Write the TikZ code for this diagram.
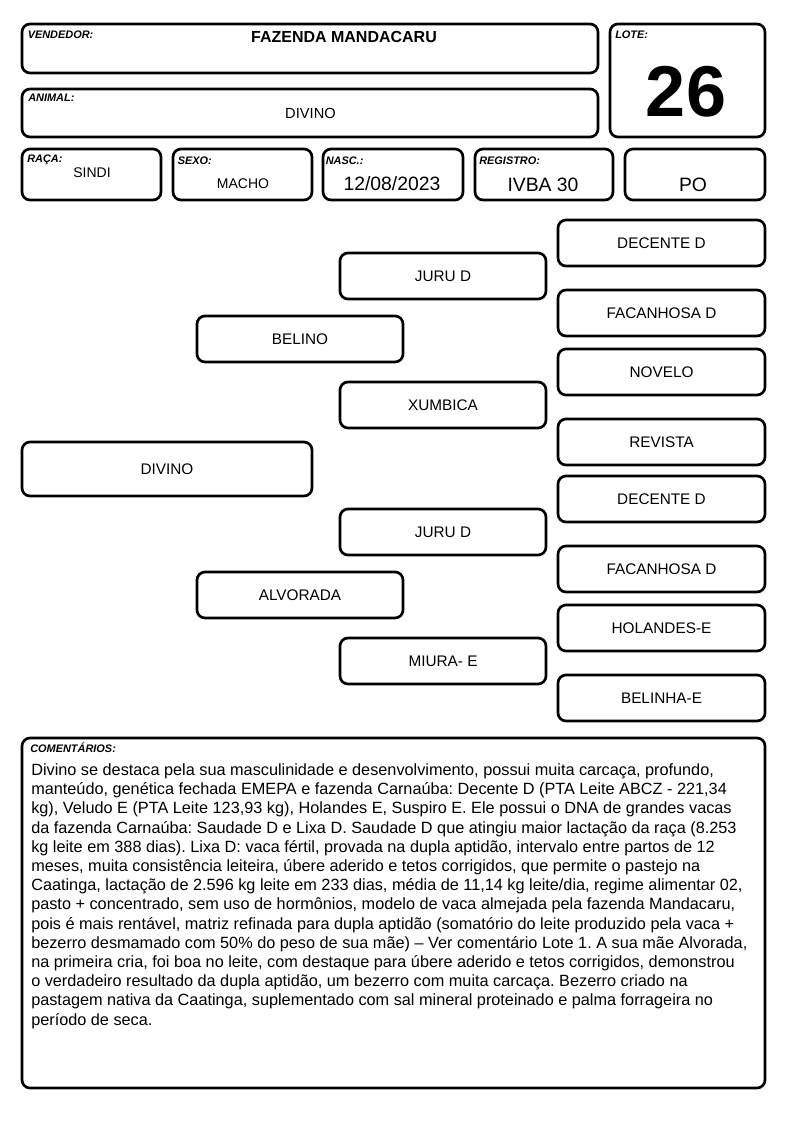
\documentclass[tikz,border=0pt]{standalone}
\usepackage{fontspec}
\setmainfont{Liberation Sans}
\frenchspacing
\tikzset{
  box/.style={draw, line width=2pt, rounded corners=6pt, inner sep=0pt,
    font=\fontsize{11.5}{13}\selectfont},
  lbl/.style={anchor=base west, inner sep=0pt, font=\fontsize{8.2}{9}\selectfont\bfseries\itshape},
  val/.style={anchor=base, inner sep=0pt},
  valmid/.style={val, font=\fontsize{10.5}{12}\selectfont},
  valbig/.style={val, font=\fontsize{14.5}{16}\selectfont},
}
\newcommand\pbox[6]{%
  \node[box, minimum width={(#4-#2-2)*0.75pt}, minimum height={(#5-#3-2)*0.75pt}]
    (#1) at ({(#2+#4)/2},{(#3+#5)/2}) {#6};}
\begin{document}
\begin{tikzpicture}[x=0.75pt,y=-0.75pt]
\useasboundingbox (0,0) rectangle (794,1123);
% header
\pbox{vend}{21}{23}{599}{74}{}
\pbox{lote}{609}{23}{766}{138}{}
\pbox{anim}{21}{88}{599}{138}{}
\pbox{raca}{21}{148}{162}{201}{}
\pbox{sexo}{172}{148}{313}{201}{}
\pbox{nasc}{322}{148}{464}{201}{}
\pbox{regi}{474}{148}{614}{201}{}
\pbox{po}{624}{148}{766}{201}{}
\node[lbl] (lvend) at (27.5,39) {VENDEDOR:};
\node[lbl] (llote) at (615,39) {LOTE:};
\node[lbl] (lanim) at (28,102) {ANIMAL:};
\node[lbl] (lraca) at (27,163) {RAÇA:};
\node[lbl] (lsexo) at (177.5,165) {SEXO:};
\node[lbl] (lnasc) at (325.5,165) {NASC.:};
\node[lbl] (lregi) at (479,165) {REGISTRO:};
\node[val, font=\fontsize{12}{14}\selectfont\bfseries] (tvend) at (344,43) {FAZENDA MANDACARU};
\node[val, font=\fontsize{11}{13}\selectfont] (tanim) at (310.5,119) {DIVINO};
\node[val, font=\fontsize{54}{60}\selectfont\bfseries] (tlote) at (686,117) {26};
\node[valmid] (traca) at (92,178) {SINDI};
\node[valmid] (tsexo) at (243,189) {MACHO};
\node[valbig] (tnasc) at (392,191) {12/08/2023};
\node[valbig] (tregi) at (543,192) {IVBA 30};
\node[valbig] (tpo) at (693,192) {PO};
% pedigree
\pbox{p0}{21}{441}{313}{497}{DIVINO}
\pbox{p1}{196}{315}{404}{363}{BELINO}
\pbox{p2}{196}{571}{404}{619}{ALVORADA}
\pbox{p3}{339}{252}{547}{300}{JURU D}
\pbox{p4}{339}{381}{547}{429}{XUMBICA}
\pbox{p5}{339}{508}{547}{556}{JURU D}
\pbox{p6}{339}{637}{547}{685}{MIURA- E}
\pbox{p7}{557}{219}{766}{267}{DECENTE D}
\pbox{p8}{557}{289}{766}{337}{FACANHOSA D}
\pbox{p9}{557}{348}{766}{396}{NOVELO}
\pbox{p10}{557}{418}{766}{466}{REVISTA}
\pbox{p11}{557}{475}{766}{523}{DECENTE D}
\pbox{p12}{557}{545}{766}{593}{FACANHOSA D}
\pbox{p13}{557}{604}{766}{652}{HOLANDES-E}
\pbox{p14}{557}{674}{766}{722}{BELINHA-E}
% comments
\pbox{com}{21}{737}{766}{1089}{}
\node[lbl] (lcom) at (30,752) {COMENTÁRIOS:};
\node[anchor=north west, inner sep=0pt, align=left, font=\fontsize{12.2}{14.4}\selectfont] (tcom) at (31,763.5) {%
Divino se destaca pela sua masculinidade e desenvolvimento, possui muita carcaça, profundo,\\
manteúdo, genética fechada EMEPA e fazenda Carnaúba: Decente D (PTA Leite ABCZ - 221,34\\
kg), Veludo E (PTA Leite 123,93 kg), Holandes E, Suspiro E. Ele possui o DNA de grandes vacas\\
da fazenda Carnaúba: Saudade D e Lixa D. Saudade D que atingiu maior lactação da raça (8.253\\
kg leite em 388 dias). Lixa D: vaca fértil, provada na dupla aptidão, intervalo entre partos de 12\\
meses, muita consistência leiteira, úbere aderido e tetos corrigidos, que permite o pastejo na\\
Caatinga, lactação de 2.596 kg leite em 233 dias, média de 11,14 kg leite/dia, regime alimentar 02,\\
pasto + concentrado, sem uso de hormônios, modelo de vaca almejada pela fazenda Mandacaru,\\
pois é mais rentável, matriz refinada para dupla aptidão (somatório do leite produzido pela vaca +\\
bezerro desmamado com 50\% do peso de sua mãe) – Ver comentário Lote 1. A sua mãe Alvorada,\\
na primeira cria, foi boa no leite, com destaque para úbere aderido e tetos corrigidos, demonstrou\\
o verdadeiro resultado da dupla aptidão, um bezerro com muita carcaça. Bezerro criado na\\
pastagem nativa da Caatinga, suplementado com sal mineral proteinado e palma forrageira no\\
período de seca.};
\end{tikzpicture}
\end{document}
